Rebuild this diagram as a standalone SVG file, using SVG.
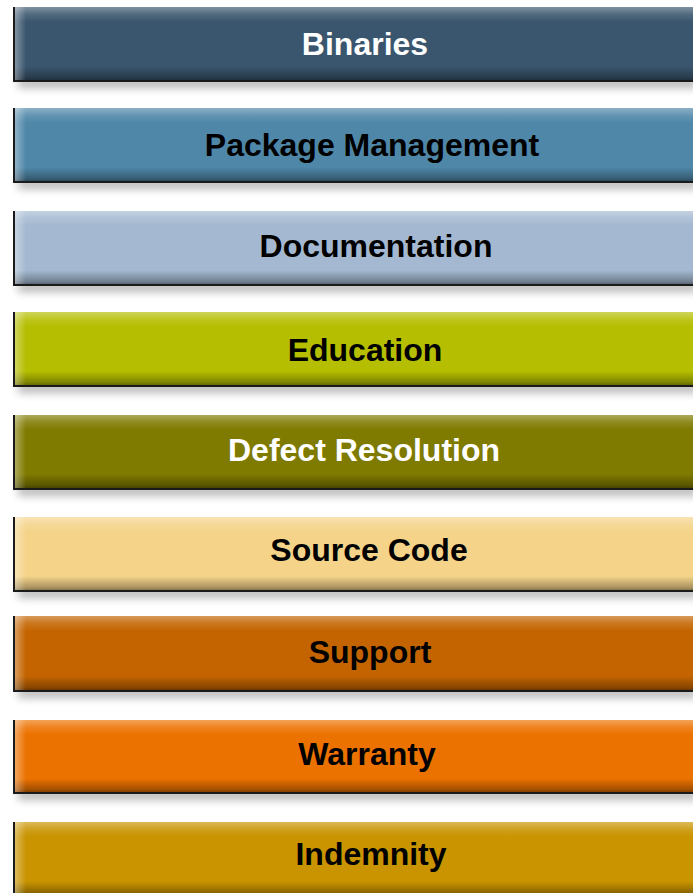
<svg xmlns="http://www.w3.org/2000/svg" width="693" height="893" viewBox="0 0 693 893">
<defs>
<linearGradient id="vs" x1="0" y1="0" x2="0" y2="1">
<stop offset="0" stop-color="#fff" stop-opacity="0.35"/>
<stop offset="0.1" stop-color="#fff" stop-opacity="0.12"/>
<stop offset="0.2" stop-color="#fff" stop-opacity="0"/>
<stop offset="0.8" stop-color="#000" stop-opacity="0"/>
<stop offset="0.95" stop-color="#000" stop-opacity="0.3"/>
<stop offset="1" stop-color="#000" stop-opacity="0.5"/>
</linearGradient>
<linearGradient id="hs" x1="0" y1="0" x2="1" y2="0">
<stop offset="0" stop-color="#fff" stop-opacity="0.4"/>
<stop offset="1" stop-color="#fff" stop-opacity="0"/>
</linearGradient>
<filter id="blur" x="-0.1" y="-1" width="1.2" height="3"><feGaussianBlur stdDeviation="4"/></filter>
</defs>
<style>
.sh{fill:#000;opacity:0.28;filter:url(#blur)}
.gl{fill:url(#vs)}
.hl{fill:url(#hs)}
.edge{fill:none;stroke:#1a1a1a;stroke-width:2}
.t{font-family:"Liberation Sans",Arial,sans-serif;font-weight:bold;font-size:32px;text-anchor:middle}
.w{fill:#fff}
.k{fill:#000}
</style>
<rect width="693" height="893" fill="#fff"/>

<g id="bar-binaries">
<rect class="sh" x="18" y="78" width="680" height="10"/>
<rect x="14" y="7" width="690" height="74" fill="#3A566E"/>
<rect class="gl" x="14" y="7" width="690" height="74"/>
<rect class="hl" x="14" y="7" width="12" height="74"/>
<path class="edge" d="M14,7 V81 H693"/>
<text class="t w" x="365" y="55">Binaries</text>
</g>

<g id="bar-package-management">
<rect class="sh" x="18" y="179" width="680" height="10"/>
<rect x="14" y="108" width="690" height="74" fill="#4F87A8"/>
<rect class="gl" x="14" y="108" width="690" height="74"/>
<rect class="hl" x="14" y="108" width="12" height="74"/>
<path class="edge" d="M14,108 V182 H693"/>
<text class="t k" x="372" y="156">Package Management</text>
</g>

<g id="bar-documentation">
<rect class="sh" x="18" y="282" width="680" height="10"/>
<rect x="14" y="211" width="690" height="74" fill="#A4B9D1"/>
<rect class="gl" x="14" y="211" width="690" height="74"/>
<rect class="hl" x="14" y="211" width="12" height="74"/>
<path class="edge" d="M14,211 V285 H693"/>
<text class="t k" x="376" y="257">Documentation</text>
</g>

<g id="bar-education">
<rect class="sh" x="18" y="383" width="680" height="10"/>
<rect x="14" y="312" width="690" height="74" fill="#B5BE00"/>
<rect class="gl" x="14" y="312" width="690" height="74"/>
<rect class="hl" x="14" y="312" width="12" height="74"/>
<path class="edge" d="M14,312 V386 H693"/>
<text class="t k" x="365" y="361">Education</text>
</g>

<g id="bar-defect-resolution">
<rect class="sh" x="18" y="486" width="680" height="10"/>
<rect x="14" y="415" width="690" height="74" fill="#7F7A00"/>
<rect class="gl" x="14" y="415" width="690" height="74"/>
<rect class="hl" x="14" y="415" width="12" height="74"/>
<path class="edge" d="M14,415 V489 H693"/>
<text class="t w" x="364" y="461">Defect Resolution</text>
</g>

<g id="bar-source-code">
<rect class="sh" x="18" y="588" width="680" height="10"/>
<rect x="14" y="517" width="690" height="74" fill="#F5D48A"/>
<rect class="gl" x="14" y="517" width="690" height="74"/>
<rect class="hl" x="14" y="517" width="12" height="74"/>
<path class="edge" d="M14,517 V591 H693"/>
<text class="t k" x="369" y="561">Source Code</text>
</g>

<g id="bar-support">
<rect class="sh" x="18" y="688" width="680" height="10"/>
<rect x="14" y="616" width="690" height="75" fill="#C46400"/>
<rect class="gl" x="14" y="616" width="690" height="75"/>
<rect class="hl" x="14" y="616" width="12" height="75"/>
<path class="edge" d="M14,616 V691 H693"/>
<text class="t k" x="370" y="663">Support</text>
</g>

<g id="bar-warranty">
<rect class="sh" x="18" y="790" width="680" height="10"/>
<rect x="14" y="720" width="690" height="73" fill="#EC7200"/>
<rect class="gl" x="14" y="720" width="690" height="73"/>
<rect class="hl" x="14" y="720" width="12" height="73"/>
<path class="edge" d="M14,720 V793 H693"/>
<text class="t k" x="367" y="765">Warranty</text>
</g>

<g id="bar-indemnity">
<rect x="14" y="822" width="690" height="74" fill="#C99400"/>
<rect class="gl" x="14" y="822" width="690" height="74"/>
<rect class="hl" x="14" y="822" width="12" height="74"/>
<path class="edge" d="M14,822 V896"/>
<text class="t k" x="371" y="865">Indemnity</text>
</g>
</svg>
